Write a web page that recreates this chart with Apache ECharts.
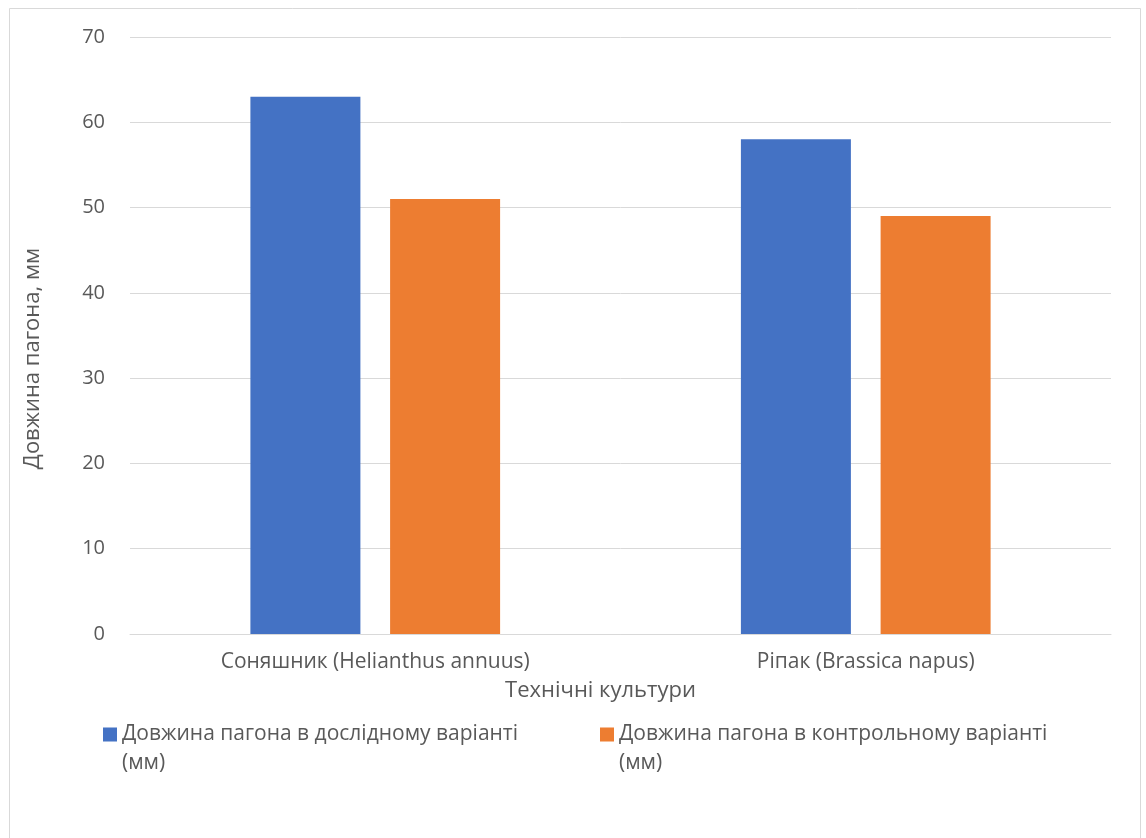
<!DOCTYPE html>
<html>
<head>
<meta charset="utf-8">
<script src="https://cdn.jsdelivr.net/npm/echarts@6/dist/echarts.min.js"></script>
<style>
  html, body { margin: 0; padding: 0; background: #fff; }
  #chart { width: 1146px; height: 838px; }
</style>
</head>
<body>
<div id="chart"></div>
<script>
// Shoot length of industrial crops, experimental vs control
const categories = ['Соняшник (Helianthus annuus)', 'Ріпак (Brassica napus)'];
const experimental = [63, 58];
const control = [51, 49];
const seriesNames = [
  'Довжина пагона в дослідному варіанті (мм)',
  'Довжина пагона в контрольному варіанті (мм)'
];
const yTicks = { min: 0, max: 70, interval: 10 };
const xTitle = 'Технічні культури';
const yTitle = 'Довжина пагона, мм';

const FONT = '"Open Sans", "Noto Sans", sans-serif';
const TEXT = '#595959';
const GRID_LINE = '#d9d9d9';
const LEGEND_LINE = 29;

// Legend swatch: a 14px square aligned with the first text line; the
// near-zero second subpath only stretches the icon box to two lines.
const swatch = 'path://M0,0H14V14H0Z M0,' + (LEGEND_LINE + 14 - 0.001) +
  'H0.001V' + (LEGEND_LINE + 14) + 'H0Z';

const chart = echarts.init(document.getElementById('chart'), null, { renderer: 'canvas' });

chart.setOption({
  backgroundColor: '#ffffff',
  animation: false,
  textStyle: { fontFamily: FONT, color: TEXT },
  graphic: [{
    type: 'rect',
    silent: true,
    shape: { x: 9.5, y: 8.5, width: 1131, height: 840 },
    style: { fill: 'none', stroke: '#d9d9d9', lineWidth: 1 }
  }],
  grid: { left: 130, right: 35, top: 37, bottom: 204, containLabel: false },
  legend: {
    left: 103,
    top: 720,
    padding: 0,
    itemWidth: 14,
    itemHeight: LEGEND_LINE + 14,
    itemGap: 18,
    icon: swatch,
    selectedMode: false,
    formatter: name => name.replace(' (мм)', '\n(мм)'),
    textStyle: {
      fontFamily: FONT,
      fontSize: 21,
      color: TEXT,
      width: 460,
      lineHeight: LEGEND_LINE
    }
  },
  xAxis: {
    type: 'category',
    data: categories,
    name: xTitle,
    nameLocation: 'middle',
    nameGap: 46,
    nameTextStyle: { fontFamily: FONT, fontSize: 22, color: TEXT, padding: [0, 40, 0, 0] },
    axisLine: { show: true, lineStyle: { color: GRID_LINE, width: 1 } },
    axisTick: { show: false },
    axisLabel: { fontFamily: FONT, fontSize: 21, color: TEXT, margin: 18 }
  },
  yAxis: {
    type: 'value',
    min: yTicks.min,
    max: yTicks.max,
    interval: yTicks.interval,
    name: yTitle,
    nameLocation: 'middle',
    nameGap: 86,
    nameRotate: 90,
    nameTextStyle: { fontFamily: FONT, fontSize: 22, color: TEXT, padding: [0, 46, 0, 0] },
    axisLine: { show: false },
    axisTick: { show: false },
    axisLabel: { fontFamily: FONT, fontSize: 20, color: TEXT, margin: 25 },
    splitLine: { lineStyle: { color: GRID_LINE, width: 1 } }
  },
  series: [
    {
      name: seriesNames[0],
      type: 'bar',
      data: experimental,
      barWidth: 110,
      barGap: '27%',
      itemStyle: { color: '#4472c4' }
    },
    {
      name: seriesNames[1],
      type: 'bar',
      data: control,
      barWidth: 110,
      barGap: '27%',
      itemStyle: { color: '#ed7d31' }
    }
  ]
});
</script>
</body>
</html>
